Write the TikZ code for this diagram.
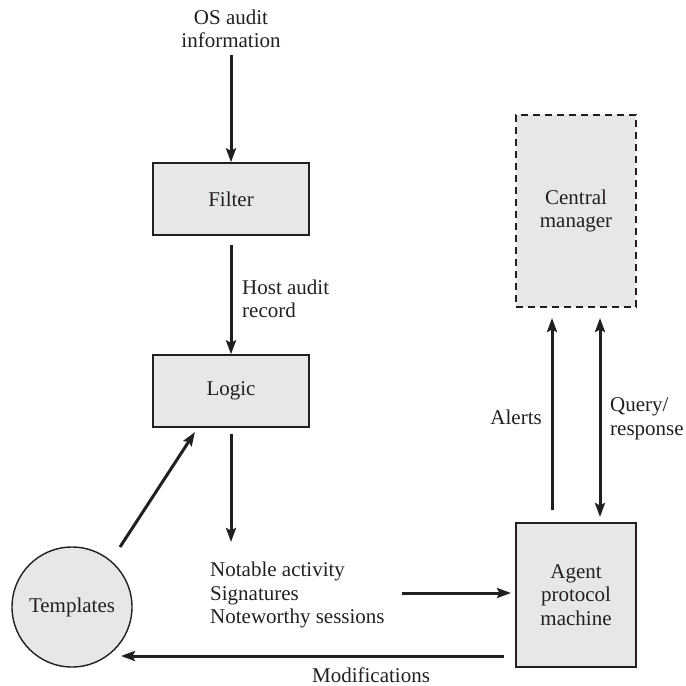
\documentclass[tikz,border=0pt]{standalone}
\usepackage{fontspec}
\setmainfont{Liberation Serif}
\usetikzlibrary{arrows.meta}
\definecolor{boxfill}{HTML}{E6E7E9}
\definecolor{ink}{HTML}{231F20}
\tikzset{
  blk/.style={draw=ink, fill=boxfill, line width=1.4pt, inner sep=0pt, align=center, text=ink},
  txt/.style={inner sep=0pt, text=ink, font=\fontsize{21}{23.5}\selectfont},
  arr/.style={draw=ink, line width=3pt, -{Stealth[length=14pt,width=10pt,inset=2.5pt]}},
  darr/.style={draw=ink, line width=3pt, {Stealth[length=14pt,width=10pt,inset=2.5pt]}-{Stealth[length=14pt,width=10pt,inset=2.5pt]}}
}
\begin{document}
\begin{tikzpicture}[x=1pt,y=-1pt, font=\fontsize{21}{23.5}\selectfont]
\useasboundingbox (0,0) rectangle (686,686);
% nodes
\node[txt, align=center] (os) at (231,29) {OS audit\\information};
\node[blk, minimum width=156pt, minimum height=72pt] (filter) at (231,199) {Filter};
\node[blk, minimum width=156pt, minimum height=72pt] (logic) at (231,391) {Logic};
\node[blk, dash pattern=on 7pt off 5pt, minimum width=120pt, minimum height=192pt] (central) at (576,211) {Central\\manager};
\node[blk, minimum width=120pt, minimum height=144pt] (agent) at (576,595) {Agent\\protocol\\machine};
\node[blk, circle, minimum size=120pt] (tmpl) at (72,607) {Templates};
\node[txt, align=left, anchor=west] (notable) at (210,595) {Notable activity\\Signatures\\Noteworthy sessions};
\node[txt, align=left, anchor=west] (hostlbl) at (242,299) {Host audit\\record};
\node[txt, anchor=east] (alertlbl) at (542,417) {Alerts};
\node[txt, align=left, anchor=west] (querylbl) at (610,419) {Query/\\response};
\node[txt] (modlbl) at (371,675) {Modifications};
% coordinates
\coordinate (osend) at (231,55);
\coordinate (logicout) at (231,434);
\coordinate (notabletop) at (231,542);
\coordinate (tmplout) at (120,547);
\coordinate (logicin) at (195,432);
\coordinate (notout) at (402,593);
\coordinate (agentin) at (511,593);
\coordinate (alertfrom) at (552,510);
\coordinate (alertto) at (552,318);
\coordinate (queryTop) at (600,318);
\coordinate (queryBot) at (600,517);
\coordinate (modfrom) at (504,656);
\coordinate (modto) at (121,656);
\coordinate (filterout) at (231,245);
% connectors
\draw[arr] (osend) -- (filter.north);
\draw[arr] (filterout) -- (logic.north);
\draw[arr] (logicout) -- (notabletop);
\draw[arr] (tmplout) -- (logicin);
\draw[arr] (notout) -- (agentin);
\draw[arr] (alertfrom) -- (alertto);
\draw[darr] (queryTop) -- (queryBot);
\draw[arr] (modfrom) -- (modto);
\end{tikzpicture}
\end{document}
